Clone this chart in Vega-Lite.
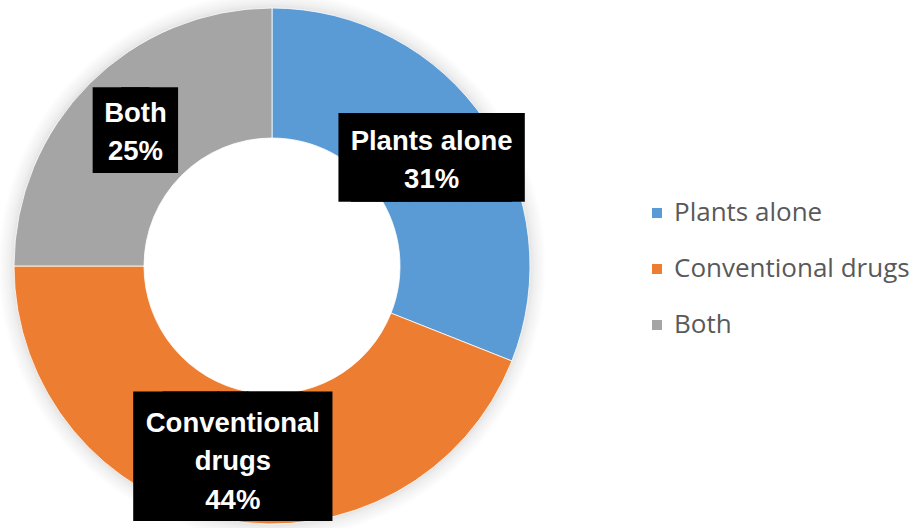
{
  "$schema": "https://vega.github.io/schema/vega-lite/v6.json",
  "width": 544,
  "height": 516,
  "autosize": {"type": "none"},
  "padding": {"left": 0, "top": 8, "right": 371, "bottom": 4},
  "background": "white",
  "config": {"view": {"stroke": null}},
  "data": {"values": [
    {"category": "Plants alone", "value": 31},
    {"category": "Conventional drugs", "value": 44},
    {"category": "Both", "value": 25}
  ]},
  "transform": [
    {"calculate": "(datum.category === 'Conventional drugs' ? 'Conventional\\ndrugs' : datum.category) + '\\n' + datum.value + '%'", "as": "label"}
  ],
  "layer": [
    {
      "transform": [{"aggregate": [{"op": "sum", "field": "value", "as": "total"}]}],
      "mark": {"type": "arc", "outerRadius": 274, "innerRadius": 236, "fill": {"gradient": "radial", "x1": 0.5, "y1": 0.5, "x2": 0.5, "y2": 0.5, "r1": 0, "r2": 0.5, "stops": [{"offset": 0, "color": "rgba(0,0,0,0)"}, {"offset": 0.92, "color": "rgba(0,0,0,0.16)"}, {"offset": 0.96, "color": "rgba(0,0,0,0.06)"}, {"offset": 1, "color": "rgba(0,0,0,0)"}]}},
      "encoding": {"theta": {"field": "total", "type": "quantitative", "stack": true}}
    },
    {
      "mark": {"type": "arc", "outerRadius": 258, "innerRadius": 128, "stroke": "white", "strokeWidth": 0.8},
      "encoding": {
        "theta": {"field": "value", "type": "quantitative", "stack": true},
        "order": {"field": "category", "type": "nominal", "sort": "descending"},
        "color": {
          "field": "category", "type": "nominal",
          "scale": {"domain": ["Plants alone", "Conventional drugs", "Both"], "range": ["#5B9BD5", "#ED7D31", "#A5A5A5"]},
          "legend": {"orient": "none", "legendX": 644, "legendY": 192, "title": null, "symbolType": "square", "symbolSize": 100, "symbolStrokeWidth": 0, "symbolOpacity": 1, "labelFont": "Open Sans", "labelFontSize": 26, "labelColor": "#595959", "labelLimit": 400, "rowPadding": 30, "labelOffset": 4, "padding": 0}
        }
      }
    },
    {
      "mark": {"type": "text", "radius": 193, "text": "███", "font": "DejaVu Sans", "fontSize": 74.7, "fill": "black", "align": "left", "baseline": "alphabetic", "dx": -92.5, "dy": 25.8},
      "encoding": {
        "theta": {"field": "value", "type": "quantitative", "stack": true},
        "order": {"field": "category", "type": "nominal", "sort": "descending"},
        "detail": {"field": "category", "type": "nominal"},
        "opacity": {"condition": {"test": "datum.category === 'Plants alone'", "value": 1}, "value": 0}
      }
    },
    {
      "mark": {"type": "text", "radius": 193, "text": "███", "font": "DejaVu Sans", "fontSize": 74.7, "fill": "black", "align": "right", "baseline": "alphabetic", "dx": 92.5, "dy": 25.8},
      "encoding": {
        "theta": {"field": "value", "type": "quantitative", "stack": true},
        "order": {"field": "category", "type": "nominal", "sort": "descending"},
        "detail": {"field": "category", "type": "nominal"},
        "opacity": {"condition": {"test": "datum.category === 'Plants alone'", "value": 1}, "value": 0}
      }
    },
    {
      "mark": {"type": "text", "radius": 193, "text": "█", "font": "DejaVu Sans", "fontSize": 72.2, "fill": "black", "align": "left", "baseline": "alphabetic", "dx": -42, "dy": 25},
      "encoding": {
        "theta": {"field": "value", "type": "quantitative", "stack": true},
        "order": {"field": "category", "type": "nominal", "sort": "descending"},
        "detail": {"field": "category", "type": "nominal"},
        "opacity": {"condition": {"test": "datum.category === 'Both'", "value": 1}, "value": 0}
      }
    },
    {
      "mark": {"type": "text", "radius": 193, "text": "█", "font": "DejaVu Sans", "fontSize": 72.2, "fill": "black", "align": "right", "baseline": "alphabetic", "dx": 42, "dy": 25},
      "encoding": {
        "theta": {"field": "value", "type": "quantitative", "stack": true},
        "order": {"field": "category", "type": "nominal", "sort": "descending"},
        "detail": {"field": "category", "type": "nominal"},
        "opacity": {"condition": {"test": "datum.category === 'Both'", "value": 1}, "value": 0}
      }
    },
    {
      "mark": {"type": "text", "radius": 193, "text": "██", "font": "DejaVu Sans", "fontSize": 109.1, "fill": "black", "align": "left", "baseline": "alphabetic", "dx": -101.5, "dy": 38.7},
      "encoding": {
        "theta": {"field": "value", "type": "quantitative", "stack": true},
        "order": {"field": "category", "type": "nominal", "sort": "descending"},
        "detail": {"field": "category", "type": "nominal"},
        "opacity": {"condition": {"test": "datum.category === 'Conventional drugs'", "value": 1}, "value": 0}
      }
    },
    {
      "mark": {"type": "text", "radius": 193, "text": "██", "font": "DejaVu Sans", "fontSize": 109.1, "fill": "black", "align": "right", "baseline": "alphabetic", "dx": 95.5, "dy": 38.7},
      "encoding": {
        "theta": {"field": "value", "type": "quantitative", "stack": true},
        "order": {"field": "category", "type": "nominal", "sort": "descending"},
        "detail": {"field": "category", "type": "nominal"},
        "opacity": {"condition": {"test": "datum.category === 'Conventional drugs'", "value": 1}, "value": 0}
      }
    },
    {
      "mark": {"type": "text", "radius": 193, "font": "Liberation Sans", "fontWeight": "bold", "fontSize": 27.5, "fill": "white", "align": "center", "baseline": "alphabetic", "lineBreak": "\n", "lineHeight": 38.5, "dy": -8},
      "encoding": {
        "theta": {"field": "value", "type": "quantitative", "stack": true},
        "order": {"field": "category", "type": "nominal", "sort": "descending"},
        "detail": {"field": "category", "type": "nominal"},
        "text": {"field": "label", "type": "nominal"},
        "opacity": {"condition": {"test": "datum.category !== 'Conventional drugs'", "value": 1}, "value": 0}
      }
    },
    {
      "mark": {"type": "text", "radius": 193, "font": "Liberation Sans", "fontWeight": "bold", "fontSize": 27.5, "fill": "white", "align": "center", "baseline": "alphabetic", "lineBreak": "\n", "lineHeight": 38.5, "dx": -3, "dy": -24},
      "encoding": {
        "theta": {"field": "value", "type": "quantitative", "stack": true},
        "order": {"field": "category", "type": "nominal", "sort": "descending"},
        "detail": {"field": "category", "type": "nominal"},
        "text": {"field": "label", "type": "nominal"},
        "opacity": {"condition": {"test": "datum.category === 'Conventional drugs'", "value": 1}, "value": 0}
      }
    }
  ]
}
